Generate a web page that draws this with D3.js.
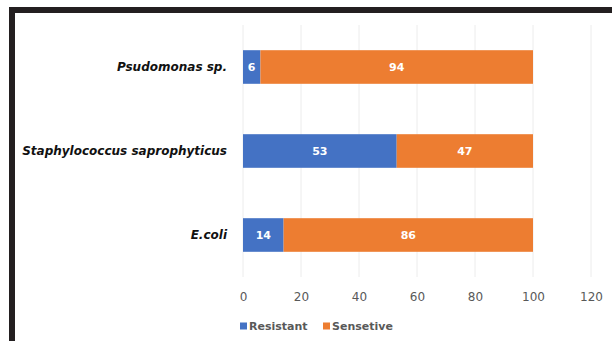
<!DOCTYPE html>
<html>
<head>
<meta charset="utf-8">
<script src="https://cdn.jsdelivr.net/npm/d3@7"></script>
<style>
  body { margin: 0; background: #fff; }
  svg { display: block; }
</style>
</head>
<body>
<svg id="chart" width="612" height="341"></svg>
<script>
'use strict';

var categories = ['Psudomonas sp.', 'Staphylococcus saprophyticus', 'E.coli'];
var resistant = [6, 53, 14];
var sensetive = [94, 47, 86];
var seriesNames = ['Resistant', 'Sensetive'];
var xTicks = [0, 20, 40, 60, 80, 100, 120];

var colors = ['#4472c4', '#ed7d31'];

var svg = d3.select('#chart');

// frame (dark band on top and left)
svg.append('rect').attr('x', 9).attr('y', 7).attr('width', 603).attr('height', 6).attr('fill', '#231f20');
svg.append('rect').attr('x', 9).attr('y', 7).attr('width', 6).attr('height', 334).attr('fill', '#231f20');

var x = d3.scaleLinear()
  .domain([0, 120])
  .range([243, 591]);

var y = d3.scaleBand()
  .domain(categories)
  .range([25, 277])
  .paddingInner(0.6)
  .paddingOuter(0.3);

var g = svg.append('g');

// gridlines
g.selectAll('line.grid')
  .data(xTicks)
  .enter().append('line')
  .attr('class', 'grid')
  .attr('x1', function(d) { return x(d); })
  .attr('x2', function(d) { return x(d); })
  .attr('y1', 25)
  .attr('y2', 277)
  .attr('stroke', '#ececec')
  .attr('stroke-width', 1);

// stacked rows
var rows = categories.map(function(c, i) {
  return { cat: c, values: [resistant[i], sensetive[i]] };
});

rows.forEach(function(r) {
  var start = 0;
  r.values.forEach(function(v, j) {
    g.append('rect')
      .attr('x', x(start))
      .attr('y', y(r.cat))
      .attr('width', x(start + v) - x(start))
      .attr('height', y.bandwidth())
      .attr('fill', colors[j]);
    g.append('text')
      .attr('x', x(start + v / 2))
      .attr('y', y(r.cat) + y.bandwidth() / 2)
      .attr('dy', '0.35em')
      .attr('text-anchor', 'middle')
      .attr('fill', '#fff')
      .attr('font-family', 'DejaVu Sans')
      .attr('font-weight', 'bold')
      .attr('font-size', 11)
      .text(v);
    start += v;
  });
});

// category labels
g.selectAll('text.cat')
  .data(categories)
  .enter().append('text')
  .attr('class', 'cat')
  .attr('x', 227)
  .attr('y', function(d) { return y(d) + y.bandwidth() / 2; })
  .attr('dy', '0.35em')
  .attr('text-anchor', 'end')
  .attr('font-family', 'DejaVu Sans')
  .attr('font-weight', 'bold')
  .attr('font-style', 'italic')
  .attr('font-size', 12)
  .attr('fill', '#111')
  .text(function(d) { return d; });

// x axis labels
var xAxis = d3.axisBottom(x).tickValues(xTicks).tickSize(0).tickPadding(0);
var ax = svg.append('g').attr('transform', 'translate(0,292)').call(xAxis);
ax.select('.domain').remove();
ax.selectAll('text')
  .attr('font-family', 'DejaVu Sans')
  .attr('font-size', 12)
  .attr('fill', '#595959');

// legend
var legendX = [240, 323];
var legend = svg.selectAll('g.leg')
  .data(seriesNames)
  .enter().append('g')
  .attr('class', 'leg')
  .attr('transform', function(d, i) { return 'translate(' + legendX[i] + ',326)'; });
legend.append('rect')
  .attr('x', 0).attr('y', -3.5)
  .attr('width', 7).attr('height', 7)
  .attr('fill', function(d, i) { return colors[i]; });
legend.append('text')
  .attr('x', 9)
  .attr('dy', '0.35em')
  .attr('font-family', 'DejaVu Sans')
  .attr('font-size', 11)
  .attr('font-weight', 'bold')
  .attr('fill', '#595959')
  .text(function(d) { return d; });
</script>
</body>
</html>
